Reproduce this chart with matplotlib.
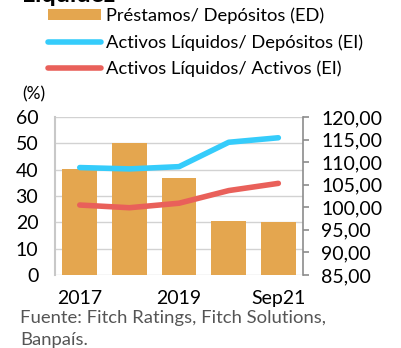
import matplotlib.pyplot as plt
from matplotlib.patches import Patch
from matplotlib.lines import Line2D
from matplotlib.ticker import FuncFormatter

plt.rcParams['font.family'] = ['Lato', 'DejaVu Sans']

periods = ['2017', '2018', '2019', '2020', 'Sep21']
tick_text = ['2017', '', '2019', '', 'Sep21']
prestamos_depositos = [40.2, 50.0, 36.7, 20.6, 20.0]
liquidos_depositos = [108.8, 108.5, 109.0, 114.4, 115.4]
liquidos_activos = [100.5, 99.9, 100.9, 103.7, 105.3]

bar_color = '#E4A64F'
blue = '#35CCFB'
red = '#E9605A'

fig = plt.figure(figsize=(4.01, 3.48), dpi=100)
ax = fig.add_axes([0.137, 0.2098, 0.619, 0.454])

x = range(len(periods))
ax.bar(x, prestamos_depositos, width=0.7, color=bar_color, zorder=2)
ax.set_xlim(-0.5, 4.5)
ax.set_ylim(0, 60)
ax.set_yticks(range(0, 61, 10))
ax.set_xticks(list(x))
ax.set_xticklabels(tick_text)
ax.grid(axis='y', color='#D2D2D2', lw=1, zorder=0)
ax.tick_params(axis='both', length=0, labelsize=14, colors='black')
ax.tick_params(axis='x', pad=11)
ax.tick_params(axis='y', pad=12)
for s in ['top', 'right', 'bottom']:
    ax.spines[s].set_visible(False)
ax.spines['left'].set_color('#C8C8C8')
ax.spines['left'].set_linewidth(1.5)

ax2 = ax.twinx()
ax2.plot(x, liquidos_depositos, color=blue, lw=4, solid_capstyle='round',
         solid_joinstyle='round', zorder=3)
ax2.plot(x, liquidos_activos, color=red, lw=4, solid_capstyle='round',
         solid_joinstyle='round', zorder=3)
ax2.set_ylim(85, 120)
ax2.set_yticks(range(85, 121, 5))
ax2.yaxis.set_major_formatter(FuncFormatter(lambda v, p: f'{v:.2f}'.replace('.', ',')))
ax2.tick_params(axis='y', length=4, width=1.2, color='#8C8C8C', labelsize=14, pad=9)
for s in ['top', 'left', 'bottom']:
    ax2.spines[s].set_visible(False)
ax2.spines['right'].set_color('#8C8C8C')
ax2.spines['right'].set_linewidth(1.2)

handles = [
    Patch(facecolor=bar_color, edgecolor='none'),
    Line2D([], [], color=blue, lw=4, solid_capstyle='round'),
    Line2D([], [], color=red, lw=4, solid_capstyle='round'),
]
labels = ['Préstamos/ Depósitos (ED)',
          'Activos Líquidos/ Depósitos (EI)',
          'Activos Líquidos/ Activos (EI)']
fig.legend(handles, labels, loc='upper left', bbox_to_anchor=(48 / 401, 1 - 7.5 / 348),
           frameon=False, fontsize=13.2, handlelength=2.9, handleheight=0.55,
           handletextpad=0.25, labelspacing=0.54, borderaxespad=0, borderpad=0)

fig.text(22 / 401, 1 - 1.5 / 348, 'Liquidez', fontsize=18, fontweight='bold',
         va='baseline', ha='left')
fig.text(22 / 401, 1 - 94 / 348, '(%)', fontsize=12.5, va='center', ha='left')
fig.text(20 / 401, 1 - 318 / 348, 'Fuente: Fitch Ratings, Fitch Solutions,',
         fontsize=13.3, color='#555555', va='center', ha='left')
fig.text(20 / 401, 1 - 340 / 348, 'Banpaís.', fontsize=13.3, color='#555555',
         va='center', ha='left')

fig.savefig('out.png', dpi=100)
